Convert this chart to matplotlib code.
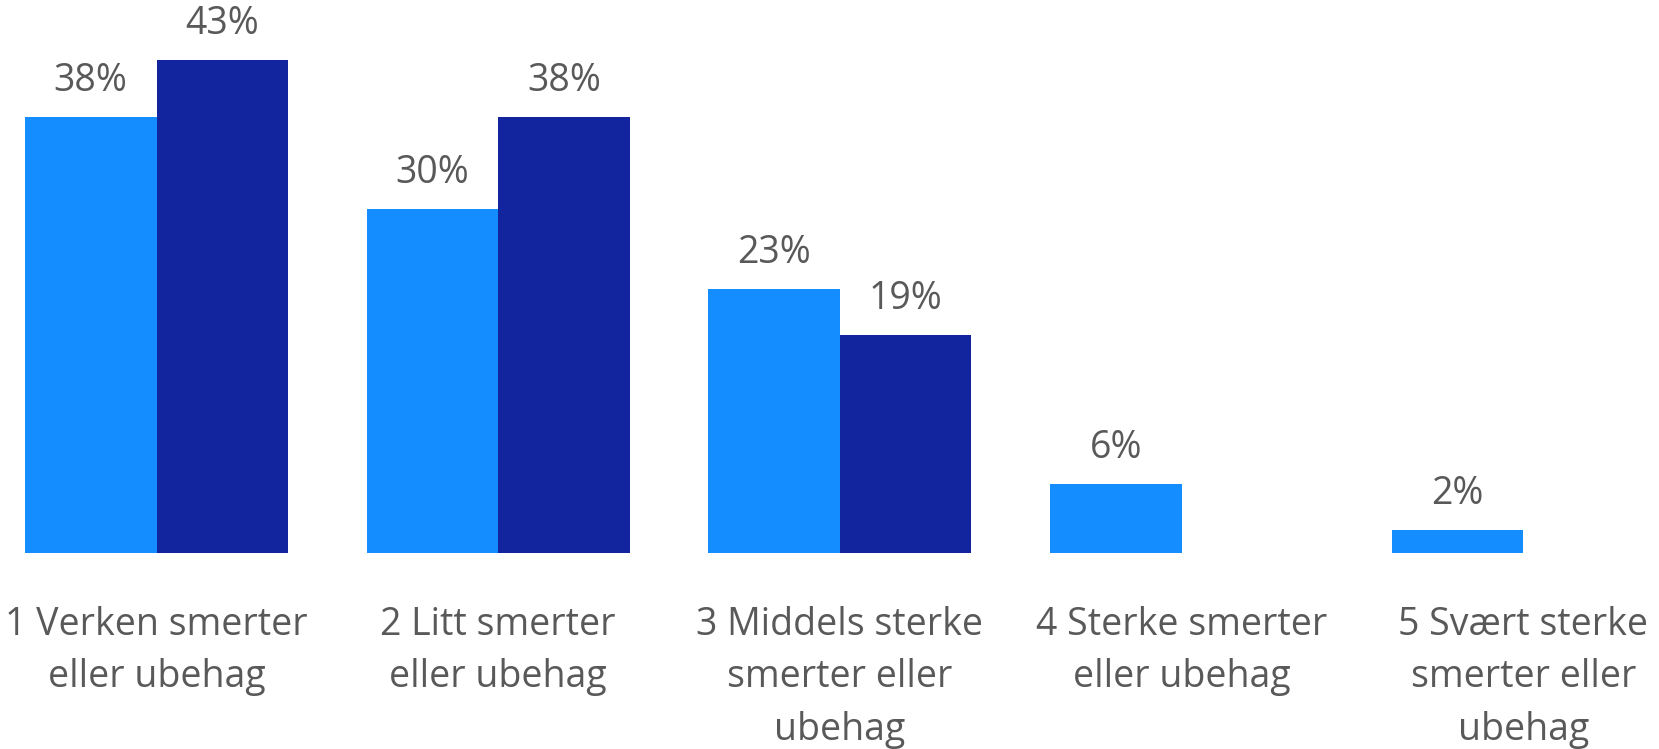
import matplotlib
matplotlib.use('Agg')
import matplotlib.pyplot as plt
import numpy as np

CATEGORIES = [
    '1 Verken smerter\neller ubehag',
    '2 Litt smerter\neller ubehag',
    '3 Middels sterke\nsmerter eller\nubehag',
    '4 Sterke smerter\neller ubehag',
    '5 Svært sterke\nsmerter eller\nubehag',
]
SERIES_A = [38, 30, 23, 6, 2]
SERIES_B = [43, 38, 19, None, None]

COLOR_A = '#138DFF'
COLOR_B = '#12249E'
TEXT_COLOR = '#595959'

plt.rcParams['font.family'] = ['Open Sans', 'DejaVu Sans']

fig = plt.figure(figsize=(16.59, 7.49), dpi=100)
ax = fig.add_axes([0, 0.2617, 1, 0.7383])

x = np.arange(len(CATEGORIES))
width = 0.385

for series, color, shift in [(SERIES_A, COLOR_A, -width / 2), (SERIES_B, COLOR_B, width / 2)]:
    for xi, val in zip(x, series):
        if val is None:
            continue
        ax.bar(xi + shift, val, width=width, color=color, linewidth=0)
        ax.annotate(f'{val}%', (xi + shift, val), xytext=(0, 18.5), textcoords='offset points',
                    ha='center', va='baseline', fontsize=27, color=TEXT_COLOR)

ax.set_xlim(-0.458, 4.397)
ax.set_ylim(0, 48.2)
ax.set_xticks(x)
ax.set_xticklabels(CATEGORIES, fontsize=27, color=TEXT_COLOR, linespacing=1.5)
ax.tick_params(axis='x', length=0, pad=38)
ax.set_yticks([])
for spine in ax.spines.values():
    spine.set_visible(False)

fig.savefig('out.png', dpi=100)
